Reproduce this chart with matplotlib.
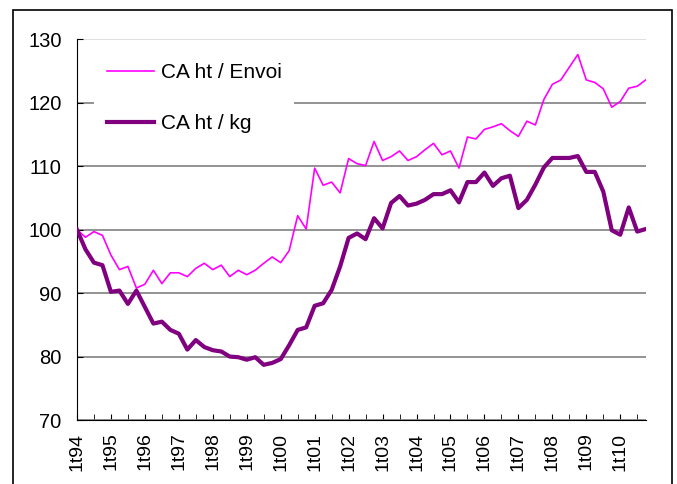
import matplotlib
matplotlib.use("Agg")
import matplotlib.pyplot as plt
from matplotlib.patches import Rectangle

# trimestres 1t94 -> 4t10
years = ["94", "95", "96", "97", "98", "99", "00", "01", "02", "03",
         "04", "05", "06", "07", "08", "09", "10"]
quarters = [f"{q}t{y}" for y in years for q in range(1, 5)]

ca_envoi = [100.0, 98.8, 99.7, 99.1, 96.0, 93.7, 94.2, 90.8,
            91.4, 93.6, 91.5, 93.2, 93.2, 92.6, 93.9, 94.7,
            93.7, 94.4, 92.6, 93.6, 92.9, 93.6, 94.7, 95.7,
            94.8, 96.7, 102.2, 100.1, 109.7, 107.0, 107.5, 105.8,
            111.2, 110.4, 110.1, 113.9, 110.9, 111.5, 112.4, 110.9,
            111.5, 112.6, 113.6, 111.8, 112.4, 109.7, 114.6, 114.3,
            115.8, 116.2, 116.7, 115.6, 114.7, 117.1, 116.5, 120.5,
            122.9, 123.6, 125.6, 127.6, 123.6, 123.2, 122.2, 119.3,
            120.2, 122.3, 122.6, 123.6]

ca_kg = [100.0, 96.9, 94.8, 94.4, 90.2, 90.4, 88.3, 90.4,
         87.8, 85.2, 85.5, 84.2, 83.6, 81.1, 82.6, 81.5,
         81.0, 80.8, 80.0, 79.9, 79.5, 79.9, 78.7, 79.0,
         79.6, 81.8, 84.2, 84.6, 88.0, 88.4, 90.5, 94.2,
         98.7, 99.4, 98.5, 101.8, 100.2, 104.2, 105.3, 103.8,
         104.1, 104.7, 105.6, 105.6, 106.2, 104.3, 107.5, 107.5,
         109.0, 106.9, 108.1, 108.5, 103.4, 104.7, 107.1, 109.8,
         111.3, 111.3, 111.3, 111.6, 109.1, 109.1, 106.0, 99.9,
         99.2, 103.5, 99.7, 100.1]

plt.rcParams['font.family'] = ['Liberation Sans', 'DejaVu Sans']

fig = plt.figure(figsize=(6.77, 4.84), dpi=100)
ax = fig.add_axes([0.1137, 0.1322, 0.8401, 0.7866])

x = list(range(len(quarters)))
ax.plot(x, ca_envoi, color="#FF00FF", lw=1.2, label="CA ht / Envoi", zorder=3)
ax.plot(x, ca_kg, color="#800080", lw=3.0, label="CA ht / kg", zorder=3)

ax.set_xlim(0, len(quarters) - 1)
ax.set_ylim(70, 130)
ax.set_yticks(range(70, 131, 10))
ax.set_xticks(x[::4])
ax.set_xticklabels(quarters[::4], rotation=90, fontsize=14)
ax.set_xticks(x[2::4], minor=True)
ax.tick_params(axis="y", labelsize=14.5, direction="in", length=4, pad=11)
ax.tick_params(axis="x", which="both", direction="in", length=4, pad=9)

ax.grid(axis="y", color="#808080", lw=1.2)
ax.get_ygridlines()[-1].set_color("#d9d9d9")
ax.set_axisbelow(True)
for s in ["top", "right"]:
    ax.spines[s].set_visible(False)

leg = ax.legend(loc="upper left", bbox_to_anchor=(0.0117, 0.998), fontsize=15,
                handlelength=2.3, labelspacing=1.55, handletextpad=0.3,
                borderpad=0.6, fancybox=False, framealpha=1, edgecolor="none")

fig.patches.append(Rectangle((0.0192, -0.02), 0.9734, 0.9993, transform=fig.transFigure,
                             fill=False, edgecolor="black", lw=1.2))

fig.savefig("out.png", dpi=100)
